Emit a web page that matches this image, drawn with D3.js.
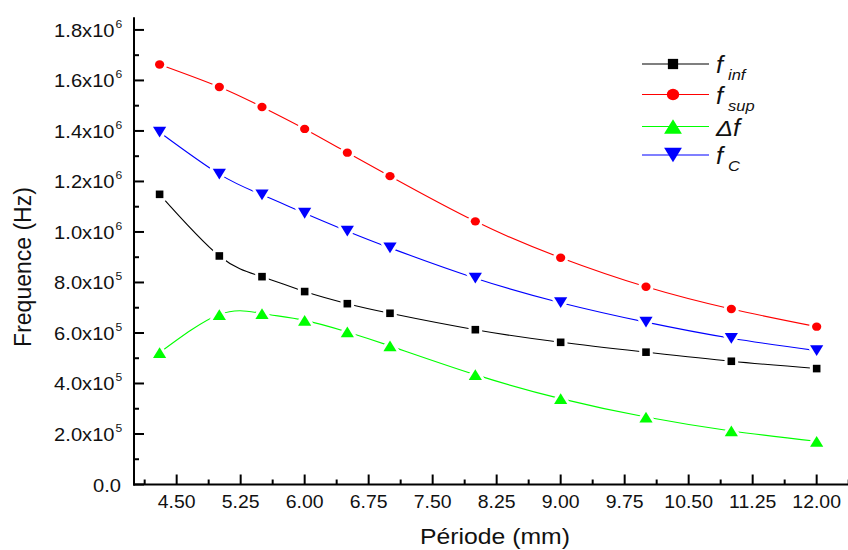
<!DOCTYPE html>
<html>
<head>
<meta charset="utf-8">
<script src="https://cdn.jsdelivr.net/npm/d3@7"></script>
<style>
  html, body { margin: 0; padding: 0; background: #fff; }
  svg { display: block; font-family: Arial, "Liberation Sans", sans-serif; }
</style>
</head>
<body>
<svg id="chart" width="848" height="550"></svg>
<script>
// ---- data ----
const periods = [4.3, 5.0, 5.5, 6.0, 6.5, 7.0, 8.0, 9.0, 10.0, 11.0, 12.0];
const fInf   = [1.149e6, 0.905e6, 0.823e6, 0.764e6, 0.716e6, 0.678e6, 0.613e6, 0.563e6, 0.524e6, 0.488e6, 0.459e6];
const fSup   = [1.663e6, 1.574e6, 1.495e6, 1.408e6, 1.314e6, 1.221e6, 1.042e6, 0.898e6, 0.783e6, 0.695e6, 0.625e6];
const deltaF = [0.522e6, 0.673e6, 0.677e6, 0.650e6, 0.604e6, 0.549e6, 0.435e6, 0.340e6, 0.267e6, 0.212e6, 0.171e6];
const fC     = [1.395e6, 1.229e6, 1.147e6, 1.074e6, 1.003e6, 0.937e6, 0.817e6, 0.720e6, 0.643e6, 0.579e6, 0.530e6];

const xTickValues = [4.50, 5.25, 6.00, 6.75, 7.50, 8.25, 9.00, 9.75, 10.50, 11.25, 12.00];
const yTickMantissa = ["0.0", "2.0", "4.0", "6.0", "8.0", "1.0", "1.2", "1.4", "1.6", "1.8"];
const yTickExponent = ["", "5", "5", "5", "5", "6", "6", "6", "6", "6"];
const yTickValues = [0, 2e5, 4e5, 6e5, 8e5, 1.0e6, 1.2e6, 1.4e6, 1.6e6, 1.8e6];

const seriesNames = ["inf", "sup", "delta", "C"];
const seriesColors = ["#000000", "#ff0000", "#00ff00", "#0000ff"];
const seriesSymbols = ["square", "circle", "triUp", "triDown"];
const seriesValues = [fInf, fSup, deltaF, fC];

// ---- layout ----
const svg = d3.select("#chart");
const x = d3.scaleLinear().domain([4.0, 12.4]).range([134, 850.8]);
const y = d3.scaleLinear().domain([0, 1.85e6]).range([484.5, 17.3]);

// ---- axes ----
const axisG = svg.append("g");
axisG.append("line").attr("x1", x(4.0)).attr("x2", x(4.0)).attr("y1", y(1.85e6)).attr("y2", y(0) + 1)
  .attr("stroke", "#000").attr("stroke-width", 2);
axisG.append("line").attr("x1", x(4.0) - 1).attr("x2", 848).attr("y1", y(0)).attr("y2", y(0))
  .attr("stroke", "#000").attr("stroke-width", 2);

const yMinor = d3.range(1e5, 1.85e6, 2e5);
yTickValues.forEach(v => {
  axisG.append("line").attr("x1", x(4.0)).attr("x2", x(4.0) + 10).attr("y1", y(v)).attr("y2", y(v))
    .attr("stroke", "#000").attr("stroke-width", 2);
});
yMinor.forEach(v => {
  axisG.append("line").attr("x1", x(4.0)).attr("x2", x(4.0) + 5).attr("y1", y(v)).attr("y2", y(v))
    .attr("stroke", "#000").attr("stroke-width", 2);
});
const xMinor = d3.range(4.125, 12.4, 0.75);
xTickValues.forEach(v => {
  axisG.append("line").attr("x1", x(v)).attr("x2", x(v)).attr("y1", y(0)).attr("y2", y(0) - 10)
    .attr("stroke", "#000").attr("stroke-width", 2);
});
xMinor.forEach(v => {
  axisG.append("line").attr("x1", x(v)).attr("x2", x(v)).attr("y1", y(0)).attr("y2", y(0) - 5)
    .attr("stroke", "#000").attr("stroke-width", 2);
});

// y tick labels
yTickValues.forEach((v, i) => {
  const yy = y(v);
  if (yTickExponent[i] === "") {
    svg.append("text").attr("transform", `translate(121,${yy + 7}) scale(1.15,1)`)
      .attr("text-anchor", "end").attr("font-size", 17.5).attr("fill", "#111").text(yTickMantissa[i]);
  } else {
    svg.append("text").attr("transform", `translate(114.5,${yy + 7}) scale(1.15,1)`)
      .attr("text-anchor", "end").attr("font-size", 17.5).attr("fill", "#111").text(yTickMantissa[i] + "x10");
    svg.append("text").attr("transform", `translate(115.5,${yy - 2}) scale(1.1,1)`)
      .attr("text-anchor", "start").attr("font-size", 11).attr("fill", "#111").text(yTickExponent[i]);
  }
});
// x tick labels
xTickValues.forEach(v => {
  svg.append("text").attr("transform", `translate(${x(v)},508) scale(1.08,1)`)
    .attr("text-anchor", "middle").attr("font-size", 18).attr("fill", "#111").text(v.toFixed(2));
});

// axis titles
svg.append("text").attr("transform", "translate(495,544) scale(1.1,1)")
  .attr("text-anchor", "middle").attr("font-size", 22.5).attr("fill", "#111").text("Période (mm)");
svg.append("text").attr("transform", "translate(31,267) rotate(-90)")
  .attr("text-anchor", "middle").attr("font-size", 23).attr("fill", "#111").text("Frequence (Hz)");

// ---- symbols ----
function symbolPath(kind, s) {
  if (kind === "square") { const h = 3.8 * s; return `M${-h},${-h}H${h}V${h}H${-h}Z`; }
  if (kind === "circle") { const rx = 4.6 * s, ry = 4.2 * s;
    return `M${-rx},0A${rx},${ry} 0 1,0 ${rx},0A${rx},${ry} 0 1,0 ${-rx},0Z`; }
  if (kind === "triUp") { const w = 6.6 * s, h = 5.4 * s; return `M0,${-h}L${w},${h}L${-w},${h}Z`; }
  if (kind === "triDown") { const w = 6.6 * s, h = 5.4 * s; return `M0,${h}L${w},${-h}L${-w},${-h}Z`; }
}

const line = d3.line().x(d => x(d[0])).y(d => y(d[1])).curve(d3.curveNatural);

seriesValues.forEach((vals, si) => {
  const pts = periods.map((p, i) => [p, vals[i]]);
  const g = svg.append("g");
  g.append("path").attr("d", line(pts)).attr("fill", "none")
    .attr("stroke", seriesColors[si]).attr("stroke-width", 1.1);
  g.selectAll("path.m").data(pts).enter().append("path").attr("class", "m")
    .attr("transform", d => `translate(${x(d[0])},${y(d[1])})`)
    .attr("d", symbolPath(seriesSymbols[si], 1))
    .attr("fill", seriesColors[si]).attr("stroke", "#fff").attr("stroke-width", 6)
    .attr("paint-order", "stroke").attr("stroke-linejoin", "round");
});

// ---- legend ----
const legendRows = [64, 94.5, 126.5, 155];
const lg = svg.append("g");
seriesNames.forEach((n, i) => {
  const ry = legendRows[i];
  lg.append("line").attr("x1", 642).attr("x2", 709).attr("y1", ry).attr("y2", ry)
    .attr("stroke", seriesColors[i]).attr("stroke-width", 1.1);
  lg.append("path").attr("transform", `translate(673,${ry})`)
    .attr("d", symbolPath(seriesSymbols[i], 1.35)).attr("fill", seriesColors[i]);
});
function legendText(txt, sub, ry) {
  lg.append("text").attr("transform", `translate(716,${ry + 9}) scale(1.1,1)`)
    .attr("font-size", 23).attr("font-style", "italic").attr("fill", "#111").text(txt);
  if (sub) {
    lg.append("text").attr("transform", `translate(728,${ry + 16}) scale(1.1,1)`)
      .attr("font-size", 15).attr("font-style", "italic").attr("fill", "#111").text(sub);
  }
}
legendText("f", "inf", legendRows[0]);
legendText("f", "sup", legendRows[1]);
legendText("\u0394f", "", legendRows[2]);
legendText("f", "C", legendRows[3]);
</script>
</body>
</html>
